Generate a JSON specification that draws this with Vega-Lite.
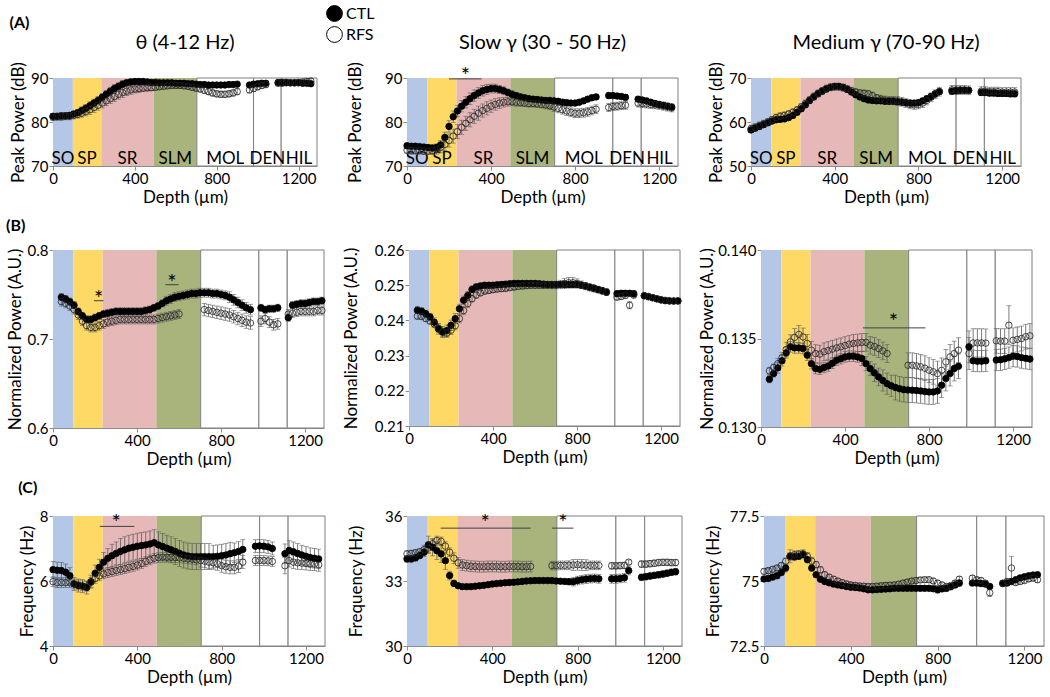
{
"$schema":"https://vega.github.io/schema/vega-lite/v6.json",
"padding":{"left":6,"top":5,"right":4,"bottom":4},
"config":{"font":"Lato","view":{"stroke":null},"scale":{"zero":false},
"axis":{"labelFontSize":15,"titleFontSize":17,"titleFontWeight":"normal","labelColor":"#000","titleColor":"#000","domainColor":"#8c8c8c","tickColor":"#8c8c8c","tickSize":4,"grid":false,"labelPadding":1,"titlePadding":3,"labelFlush":false,"labelOverlap":false},
"axisY":{"labelOverlap":false},"axisX":{"labelOverlap":false},
"text":{"color":"#000"},
"title":{"fontSize":20,"fontWeight":"normal","color":"#000","offset":8}},
"datasets":{
"regions":[{"region":"SO","start":0,"end":97},{"region":"SP","start":97,"end":236},{"region":"SR","start":236,"end":492},{"region":"SLM","start":492,"end":703},{"region":"MOL","start":703,"end":980},{"region":"DEN","start":980,"end":1115},{"region":"HIL","start":1115,"end":1290}],
"sig":[{"panel":"A2","from":200,"to":355,"y":89.8,"star":278,"ystar":91.6},{"panel":"B1","from":195,"to":240,"y":0.743,"star":217,"ystar":0.751},{"panel":"B1","from":535,"to":598,"y":0.761,"star":566,"ystar":0.769},{"panel":"B3","from":485,"to":783,"y":0.1356,"star":630,"ystar":0.1362},{"panel":"C1","from":222,"to":386,"y":7.68,"star":300,"ystar":7.95},{"panel":"C2","from":158,"to":580,"y":35.44,"star":367,"ystar":35.9},{"panel":"C2","from":681,"to":781,"y":35.44,"star":732,"ystar":35.9}],
"A1":[{"d":0,"CTL":81.3,"eC":0.6,"RFS":81.1,"eR":0.8},{"d":20,"CTL":81.3,"eC":0.6,"RFS":81.2,"eR":0.8},{"d":40,"CTL":81.4,"eC":0.6,"RFS":81.2,"eR":0.8},{"d":60,"CTL":81.4,"eC":0.6,"RFS":81.3,"eR":0.8},{"d":80,"CTL":81.5,"eC":0.6,"RFS":81.3,"eR":0.8},{"d":100,"CTL":81.8,"eC":0.6,"RFS":81.5,"eR":0.8},{"d":120,"CTL":82.1,"eC":0.7,"RFS":81.7,"eR":0.8},{"d":140,"CTL":82.6,"eC":0.8,"RFS":82.0,"eR":0.9},{"d":160,"CTL":83.1,"eC":0.9,"RFS":82.4,"eR":1.0},{"d":180,"CTL":83.7,"eC":0.9,"RFS":82.8,"eR":1.1},{"d":200,"CTL":84.3,"eC":0.9,"RFS":83.3,"eR":1.1},{"d":220,"CTL":84.9,"eC":0.9,"RFS":83.8,"eR":1.1},{"d":240,"CTL":85.6,"eC":0.9,"RFS":84.3,"eR":1.1},{"d":260,"CTL":86.3,"eC":0.9,"RFS":84.8,"eR":1.1},{"d":280,"CTL":87.0,"eC":0.9,"RFS":85.3,"eR":1.1},{"d":300,"CTL":87.6,"eC":0.9,"RFS":85.8,"eR":1.1},{"d":320,"CTL":88.1,"eC":0.8,"RFS":86.3,"eR":1.1},{"d":340,"CTL":88.6,"eC":0.8,"RFS":86.7,"eR":1.1},{"d":360,"CTL":88.9,"eC":0.7,"RFS":87.0,"eR":1.0},{"d":380,"CTL":89.1,"eC":0.7,"RFS":87.3,"eR":1.0},{"d":400,"CTL":89.2,"eC":0.6,"RFS":87.5,"eR":0.9},{"d":420,"CTL":89.2,"eC":0.6,"RFS":87.6,"eR":0.9},{"d":440,"CTL":89.2,"eC":0.6,"RFS":87.7,"eR":0.8},{"d":460,"CTL":89.1,"eC":0.6,"RFS":87.8,"eR":0.8},{"d":480,"CTL":89.0,"eC":0.5,"RFS":87.8,"eR":0.7},{"d":500,"CTL":89.0,"eC":0.5,"RFS":87.9,"eR":0.7},{"d":520,"CTL":88.9,"eC":0.5,"RFS":88.0,"eR":0.6},{"d":540,"CTL":88.9,"eC":0.5,"RFS":88.1,"eR":0.6},{"d":560,"CTL":88.9,"eC":0.5,"RFS":88.2,"eR":0.6},{"d":580,"CTL":88.9,"eC":0.5,"RFS":88.3,"eR":0.6},{"d":600,"CTL":88.8,"eC":0.5,"RFS":88.3,"eR":0.6},{"d":620,"CTL":88.8,"eC":0.5,"RFS":88.3,"eR":0.6},{"d":640,"CTL":88.8,"eC":0.5,"RFS":88.2,"eR":0.6},{"d":660,"CTL":88.7,"eC":0.5,"RFS":88.1,"eR":0.6},{"d":680,"CTL":88.7,"eC":0.5,"RFS":87.9,"eR":0.7},{"d":700,"CTL":88.6,"eC":0.5,"RFS":87.7,"eR":0.7},{"d":720,"CTL":88.5,"eC":0.5,"RFS":87.5,"eR":0.7},{"d":740,"CTL":88.5,"eC":0.5,"RFS":87.2,"eR":0.7},{"d":760,"CTL":88.4,"eC":0.5,"RFS":86.9,"eR":0.7},{"d":780,"CTL":88.4,"eC":0.5,"RFS":86.6,"eR":0.7},{"d":800,"CTL":88.4,"eC":0.5,"RFS":86.4,"eR":0.7},{"d":820,"CTL":88.4,"eC":0.5,"RFS":86.3,"eR":0.7},{"d":840,"CTL":88.4,"eC":0.5,"RFS":86.3,"eR":0.7},{"d":860,"CTL":88.5,"eC":0.5,"RFS":86.4,"eR":0.7},{"d":880,"CTL":88.5,"eC":0.5,"RFS":86.6,"eR":0.7},{"d":900,"CTL":88.6,"eC":0.5,"RFS":86.9,"eR":0.7},{"d":960,"CTL":88.4,"eC":0.5,"RFS":87.3,"eR":0.7},{"d":980,"CTL":88.6,"eC":0.5,"RFS":87.6,"eR":0.7},{"d":1000,"CTL":88.7,"eC":0.5,"RFS":88.0,"eR":0.7},{"d":1020,"CTL":88.8,"eC":0.5,"RFS":88.3,"eR":0.7},{"d":1040,"CTL":88.8,"eC":0.5,"RFS":88.5,"eR":0.7},{"d":1100,"CTL":89.0,"eC":0.5,"RFS":88.8,"eR":0.6},{"d":1120,"CTL":89.0,"eC":0.5,"RFS":88.8,"eR":0.6},{"d":1140,"CTL":89.0,"eC":0.5,"RFS":88.9,"eR":0.6},{"d":1160,"CTL":88.9,"eC":0.5,"RFS":88.9,"eR":0.6},{"d":1180,"CTL":88.9,"eC":0.5,"RFS":88.9,"eR":0.6},{"d":1200,"CTL":88.9,"eC":0.5,"RFS":89.0,"eR":0.6},{"d":1220,"CTL":88.8,"eC":0.5,"RFS":89.1,"eR":0.6},{"d":1240,"CTL":88.8,"eC":0.5,"RFS":89.2,"eR":0.6},{"d":1260,"CTL":88.7,"eC":0.5,"RFS":89.3,"eR":0.6}],
"A2":[{"d":0,"CTL":74.6,"eC":0.6,"RFS":73.6,"eR":0.8},{"d":20,"CTL":74.5,"eC":0.6,"RFS":73.5,"eR":0.8},{"d":40,"CTL":74.5,"eC":0.6,"RFS":73.5,"eR":0.8},{"d":60,"CTL":74.4,"eC":0.6,"RFS":73.5,"eR":0.8},{"d":80,"CTL":74.3,"eC":0.6,"RFS":73.4,"eR":0.8},{"d":100,"CTL":74.2,"eC":0.6,"RFS":73.4,"eR":0.8},{"d":120,"CTL":74.1,"eC":0.7,"RFS":73.5,"eR":0.9},{"d":140,"CTL":74.2,"eC":0.8,"RFS":73.7,"eR":1.0},{"d":160,"CTL":74.8,"eC":1.0,"RFS":74.2,"eR":1.2},{"d":180,"CTL":76.5,"eC":1.2,"RFS":74.9,"eR":1.4},{"d":200,"CTL":79.0,"eC":1.3,"RFS":75.8,"eR":1.5},{"d":220,"CTL":81.2,"eC":1.3,"RFS":76.8,"eR":1.6},{"d":240,"CTL":82.5,"eC":1.3,"RFS":77.8,"eR":1.6},{"d":260,"CTL":83.6,"eC":1.3,"RFS":78.8,"eR":1.6},{"d":280,"CTL":84.5,"eC":1.3,"RFS":79.7,"eR":1.6},{"d":300,"CTL":85.3,"eC":1.3,"RFS":80.5,"eR":1.6},{"d":320,"CTL":86.0,"eC":1.3,"RFS":81.3,"eR":1.6},{"d":340,"CTL":86.6,"eC":1.2,"RFS":82.0,"eR":1.6},{"d":360,"CTL":87.1,"eC":1.2,"RFS":82.6,"eR":1.5},{"d":380,"CTL":87.4,"eC":1.1,"RFS":83.1,"eR":1.5},{"d":400,"CTL":87.6,"eC":1.0,"RFS":83.6,"eR":1.4},{"d":420,"CTL":87.6,"eC":1.0,"RFS":84.0,"eR":1.3},{"d":440,"CTL":87.4,"eC":0.9,"RFS":84.3,"eR":1.2},{"d":460,"CTL":87.1,"eC":0.9,"RFS":84.5,"eR":1.1},{"d":480,"CTL":86.7,"eC":0.8,"RFS":84.6,"eR":1.0},{"d":500,"CTL":86.3,"eC":0.8,"RFS":84.6,"eR":0.9},{"d":520,"CTL":86.0,"eC":0.7,"RFS":84.5,"eR":0.9},{"d":540,"CTL":85.7,"eC":0.7,"RFS":84.4,"eR":0.8},{"d":560,"CTL":85.5,"eC":0.6,"RFS":84.3,"eR":0.8},{"d":580,"CTL":85.3,"eC":0.6,"RFS":84.2,"eR":0.8},{"d":600,"CTL":85.2,"eC":0.6,"RFS":84.2,"eR":0.8},{"d":620,"CTL":85.1,"eC":0.6,"RFS":84.1,"eR":0.8},{"d":640,"CTL":85.0,"eC":0.6,"RFS":84.0,"eR":0.8},{"d":660,"CTL":84.9,"eC":0.6,"RFS":83.9,"eR":0.9},{"d":680,"CTL":84.9,"eC":0.6,"RFS":83.7,"eR":0.9},{"d":700,"CTL":84.8,"eC":0.6,"RFS":83.4,"eR":1.0},{"d":720,"CTL":84.7,"eC":0.6,"RFS":83.1,"eR":1.0},{"d":740,"CTL":84.5,"eC":0.6,"RFS":82.8,"eR":1.0},{"d":760,"CTL":84.4,"eC":0.6,"RFS":82.5,"eR":1.0},{"d":780,"CTL":84.3,"eC":0.6,"RFS":82.2,"eR":1.0},{"d":800,"CTL":84.3,"eC":0.6,"RFS":82.0,"eR":1.0},{"d":820,"CTL":84.5,"eC":0.6,"RFS":82.0,"eR":1.0},{"d":840,"CTL":84.8,"eC":0.6,"RFS":82.1,"eR":1.0},{"d":860,"CTL":85.2,"eC":0.6,"RFS":82.3,"eR":1.0},{"d":880,"CTL":85.5,"eC":0.6,"RFS":82.6,"eR":1.0},{"d":900,"CTL":85.7,"eC":0.6,"RFS":82.9,"eR":1.0},{"d":960,"CTL":86.0,"eC":0.6,"RFS":83.3,"eR":0.9},{"d":980,"CTL":86.0,"eC":0.6,"RFS":83.5,"eR":0.9},{"d":1000,"CTL":85.9,"eC":0.6,"RFS":83.6,"eR":0.9},{"d":1020,"CTL":85.8,"eC":0.6,"RFS":83.7,"eR":0.9},{"d":1040,"CTL":85.6,"eC":0.6,"RFS":83.8,"eR":0.9},{"d":1100,"CTL":85.2,"eC":0.6,"RFS":84.3,"eR":0.9},{"d":1120,"CTL":85.0,"eC":0.6,"RFS":84.2,"eR":0.9},{"d":1140,"CTL":84.8,"eC":0.6,"RFS":84.1,"eR":0.9},{"d":1160,"CTL":84.5,"eC":0.6,"RFS":84.0,"eR":0.9},{"d":1180,"CTL":84.2,"eC":0.6,"RFS":83.9,"eR":0.9},{"d":1200,"CTL":84.0,"eC":0.6,"RFS":83.8,"eR":0.9},{"d":1220,"CTL":83.8,"eC":0.6,"RFS":83.6,"eR":0.9},{"d":1240,"CTL":83.6,"eC":0.6,"RFS":83.4,"eR":0.9},{"d":1260,"CTL":83.4,"eC":0.6,"RFS":83.2,"eR":0.9}],
"A3":[{"d":0,"CTL":58.2,"eC":0.6,"RFS":58.5,"eR":0.8},{"d":20,"CTL":58.6,"eC":0.6,"RFS":58.8,"eR":0.8},{"d":40,"CTL":59.0,"eC":0.6,"RFS":59.2,"eR":0.8},{"d":60,"CTL":59.4,"eC":0.6,"RFS":59.6,"eR":0.8},{"d":80,"CTL":59.8,"eC":0.6,"RFS":60.0,"eR":0.8},{"d":100,"CTL":60.2,"eC":0.6,"RFS":60.5,"eR":0.8},{"d":120,"CTL":60.5,"eC":0.6,"RFS":61.0,"eR":0.8},{"d":140,"CTL":60.6,"eC":0.6,"RFS":61.3,"eR":0.8},{"d":160,"CTL":60.7,"eC":0.6,"RFS":61.5,"eR":0.8},{"d":180,"CTL":61.0,"eC":0.6,"RFS":61.8,"eR":0.8},{"d":200,"CTL":61.5,"eC":0.6,"RFS":62.2,"eR":0.8},{"d":220,"CTL":62.2,"eC":0.6,"RFS":62.7,"eR":0.8},{"d":240,"CTL":63.0,"eC":0.6,"RFS":63.4,"eR":0.8},{"d":260,"CTL":63.9,"eC":0.6,"RFS":64.2,"eR":0.8},{"d":280,"CTL":64.9,"eC":0.6,"RFS":65.0,"eR":0.8},{"d":300,"CTL":65.7,"eC":0.6,"RFS":65.8,"eR":0.8},{"d":320,"CTL":66.4,"eC":0.6,"RFS":66.5,"eR":0.8},{"d":340,"CTL":67.0,"eC":0.6,"RFS":67.1,"eR":0.8},{"d":360,"CTL":67.5,"eC":0.6,"RFS":67.6,"eR":0.8},{"d":380,"CTL":67.9,"eC":0.6,"RFS":67.9,"eR":0.8},{"d":400,"CTL":68.1,"eC":0.6,"RFS":68.0,"eR":0.8},{"d":420,"CTL":68.1,"eC":0.6,"RFS":68.0,"eR":0.8},{"d":440,"CTL":67.9,"eC":0.6,"RFS":67.8,"eR":0.8},{"d":460,"CTL":67.4,"eC":0.6,"RFS":67.5,"eR":0.8},{"d":480,"CTL":66.8,"eC":0.6,"RFS":67.1,"eR":0.8},{"d":500,"CTL":66.2,"eC":0.6,"RFS":66.8,"eR":0.8},{"d":520,"CTL":65.7,"eC":0.6,"RFS":66.6,"eR":0.8},{"d":540,"CTL":65.3,"eC":0.6,"RFS":66.5,"eR":0.8},{"d":560,"CTL":65.0,"eC":0.6,"RFS":66.4,"eR":0.8},{"d":580,"CTL":64.9,"eC":0.6,"RFS":66.0,"eR":0.8},{"d":600,"CTL":64.8,"eC":0.6,"RFS":65.5,"eR":0.8},{"d":620,"CTL":64.8,"eC":0.6,"RFS":65.2,"eR":0.9},{"d":640,"CTL":64.7,"eC":0.6,"RFS":65.0,"eR":0.9},{"d":660,"CTL":64.7,"eC":0.6,"RFS":64.9,"eR":0.9},{"d":680,"CTL":64.7,"eC":0.6,"RFS":64.9,"eR":0.9},{"d":700,"CTL":64.6,"eC":0.6,"RFS":64.8,"eR":1.0},{"d":720,"CTL":64.5,"eC":0.6,"RFS":64.6,"eR":1.0},{"d":740,"CTL":64.4,"eC":0.6,"RFS":64.3,"eR":1.0},{"d":760,"CTL":64.3,"eC":0.6,"RFS":64.0,"eR":1.0},{"d":780,"CTL":64.3,"eC":0.6,"RFS":63.9,"eR":1.0},{"d":800,"CTL":64.4,"eC":0.6,"RFS":64.0,"eR":1.0},{"d":820,"CTL":64.8,"eC":0.6,"RFS":64.3,"eR":1.0},{"d":840,"CTL":65.3,"eC":0.6,"RFS":64.9,"eR":1.0},{"d":860,"CTL":65.8,"eC":0.6,"RFS":65.6,"eR":1.0},{"d":880,"CTL":66.4,"eC":0.6,"RFS":66.3,"eR":1.0},{"d":900,"CTL":66.9,"eC":0.6,"RFS":66.9,"eR":1.0},{"d":960,"CTL":67.0,"eC":0.7,"RFS":67.3,"eR":1.0},{"d":980,"CTL":67.1,"eC":0.7,"RFS":67.3,"eR":1.0},{"d":1000,"CTL":67.2,"eC":0.7,"RFS":67.3,"eR":1.0},{"d":1020,"CTL":67.2,"eC":0.7,"RFS":67.3,"eR":1.0},{"d":1040,"CTL":67.2,"eC":0.7,"RFS":67.2,"eR":1.0},{"d":1100,"CTL":66.7,"eC":0.7,"RFS":67.0,"eR":1.0},{"d":1120,"CTL":66.7,"eC":0.7,"RFS":67.0,"eR":1.0},{"d":1140,"CTL":66.6,"eC":0.7,"RFS":66.9,"eR":1.0},{"d":1160,"CTL":66.6,"eC":0.7,"RFS":66.9,"eR":1.0},{"d":1180,"CTL":66.5,"eC":0.7,"RFS":66.9,"eR":1.0},{"d":1200,"CTL":66.5,"eC":0.7,"RFS":66.8,"eR":1.0},{"d":1220,"CTL":66.5,"eC":0.7,"RFS":66.8,"eR":1.0},{"d":1240,"CTL":66.4,"eC":0.7,"RFS":66.8,"eR":1.0},{"d":1260,"CTL":66.4,"eC":0.7,"RFS":66.8,"eR":1.0}],
"B1":[{"d":40,"CTL":0.747,"eC":0.004,"RFS":0.742,"eR":0.005},{"d":60,"CTL":0.745,"eC":0.004,"RFS":0.740,"eR":0.005},{"d":80,"CTL":0.742,"eC":0.004,"RFS":0.737,"eR":0.005},{"d":100,"CTL":0.738,"eC":0.004,"RFS":0.733,"eR":0.005},{"d":120,"CTL":0.731,"eC":0.004,"RFS":0.727,"eR":0.005},{"d":140,"CTL":0.726,"eC":0.004,"RFS":0.720,"eR":0.005},{"d":160,"CTL":0.722,"eC":0.004,"RFS":0.715,"eR":0.005},{"d":180,"CTL":0.722,"eC":0.004,"RFS":0.713,"eR":0.005},{"d":200,"CTL":0.724,"eC":0.004,"RFS":0.713,"eR":0.005},{"d":220,"CTL":0.726,"eC":0.004,"RFS":0.715,"eR":0.005},{"d":240,"CTL":0.728,"eC":0.004,"RFS":0.717,"eR":0.005},{"d":260,"CTL":0.729,"eC":0.004,"RFS":0.719,"eR":0.005},{"d":280,"CTL":0.730,"eC":0.004,"RFS":0.720,"eR":0.005},{"d":300,"CTL":0.731,"eC":0.004,"RFS":0.721,"eR":0.005},{"d":320,"CTL":0.731,"eC":0.004,"RFS":0.722,"eR":0.005},{"d":340,"CTL":0.731,"eC":0.004,"RFS":0.722,"eR":0.005},{"d":360,"CTL":0.731,"eC":0.004,"RFS":0.722,"eR":0.005},{"d":380,"CTL":0.731,"eC":0.004,"RFS":0.722,"eR":0.005},{"d":400,"CTL":0.731,"eC":0.004,"RFS":0.722,"eR":0.005},{"d":420,"CTL":0.731,"eC":0.004,"RFS":0.722,"eR":0.005},{"d":440,"CTL":0.732,"eC":0.004,"RFS":0.722,"eR":0.005},{"d":460,"CTL":0.733,"eC":0.004,"RFS":0.722,"eR":0.005},{"d":480,"CTL":0.735,"eC":0.004,"RFS":0.722,"eR":0.005},{"d":500,"CTL":0.737,"eC":0.004,"RFS":0.723,"eR":0.005},{"d":520,"CTL":0.740,"eC":0.004,"RFS":0.724,"eR":0.005},{"d":540,"CTL":0.743,"eC":0.005,"RFS":0.725,"eR":0.005},{"d":560,"CTL":0.745,"eC":0.005,"RFS":0.726,"eR":0.005},{"d":580,"CTL":0.747,"eC":0.005,"RFS":0.727,"eR":0.005},{"d":600,"CTL":0.748,"eC":0.005,"RFS":0.728,"eR":0.005},{"d":620,"CTL":0.749,"eC":0.005},{"d":640,"CTL":0.750,"eC":0.005},{"d":660,"CTL":0.751,"eC":0.005},{"d":680,"CTL":0.751,"eC":0.005},{"d":700,"CTL":0.752,"eC":0.005},{"d":720,"CTL":0.752,"eC":0.005,"RFS":0.733,"eR":0.007},{"d":740,"CTL":0.752,"eC":0.005,"RFS":0.732,"eR":0.007},{"d":760,"CTL":0.751,"eC":0.005,"RFS":0.731,"eR":0.007},{"d":780,"CTL":0.751,"eC":0.005,"RFS":0.730,"eR":0.007},{"d":800,"CTL":0.750,"eC":0.005,"RFS":0.729,"eR":0.007},{"d":820,"CTL":0.749,"eC":0.005,"RFS":0.728,"eR":0.007},{"d":840,"CTL":0.747,"eC":0.006,"RFS":0.727,"eR":0.007},{"d":860,"CTL":0.744,"eC":0.006,"RFS":0.725,"eR":0.007},{"d":880,"CTL":0.741,"eC":0.006,"RFS":0.723,"eR":0.007},{"d":900,"CTL":0.738,"eC":0.006,"RFS":0.721,"eR":0.007},{"d":920,"CTL":0.735,"eC":0.006,"RFS":0.719,"eR":0.007},{"d":940,"CTL":0.733,"eC":0.006,"RFS":0.718,"eR":0.007},{"d":990,"CTL":0.735,"eC":0.004,"RFS":0.720,"eR":0.006},{"d":1010,"CTL":0.733,"eC":0.004,"RFS":0.723,"eR":0.006},{"d":1030,"CTL":0.734,"eC":0.004,"RFS":0.719,"eR":0.006},{"d":1050,"CTL":0.734,"eC":0.004,"RFS":0.716,"eR":0.006},{"d":1070,"CTL":0.735,"eC":0.004,"RFS":0.717,"eR":0.006},{"d":1120,"CTL":0.724,"eC":0.004,"RFS":0.728,"eR":0.005},{"d":1140,"CTL":0.738,"eC":0.004,"RFS":0.729,"eR":0.005},{"d":1160,"CTL":0.739,"eC":0.004,"RFS":0.730,"eR":0.005},{"d":1180,"CTL":0.740,"eC":0.004,"RFS":0.731,"eR":0.005},{"d":1200,"CTL":0.740,"eC":0.004,"RFS":0.731,"eR":0.005},{"d":1220,"CTL":0.741,"eC":0.004,"RFS":0.731,"eR":0.005},{"d":1240,"CTL":0.742,"eC":0.004,"RFS":0.731,"eR":0.005},{"d":1260,"CTL":0.742,"eC":0.004,"RFS":0.732,"eR":0.005},{"d":1280,"CTL":0.743,"eC":0.004,"RFS":0.732,"eR":0.005}],
"B2":[{"d":40,"CTL":0.2429,"eC":0.0010,"RFS":0.2412,"eR":0.0008},{"d":60,"CTL":0.2426,"eC":0.0010,"RFS":0.2411,"eR":0.0008},{"d":80,"CTL":0.2419,"eC":0.0010,"RFS":0.2405,"eR":0.0008},{"d":100,"CTL":0.2410,"eC":0.0010,"RFS":0.2398,"eR":0.0008},{"d":120,"CTL":0.2395,"eC":0.0012,"RFS":0.2390,"eR":0.0010},{"d":140,"CTL":0.2376,"eC":0.0015,"RFS":0.2378,"eR":0.0012},{"d":160,"CTL":0.2367,"eC":0.0016,"RFS":0.2366,"eR":0.0012},{"d":180,"CTL":0.2371,"eC":0.0016,"RFS":0.2364,"eR":0.0012},{"d":200,"CTL":0.2386,"eC":0.0015,"RFS":0.2372,"eR":0.0012},{"d":220,"CTL":0.2405,"eC":0.0014,"RFS":0.2385,"eR":0.0012},{"d":240,"CTL":0.2433,"eC":0.0013,"RFS":0.2405,"eR":0.0012},{"d":260,"CTL":0.2457,"eC":0.0012,"RFS":0.2428,"eR":0.0012},{"d":280,"CTL":0.2471,"eC":0.0011,"RFS":0.2448,"eR":0.0011},{"d":300,"CTL":0.2488,"eC":0.0010,"RFS":0.2462,"eR":0.0010},{"d":320,"CTL":0.2495,"eC":0.0009,"RFS":0.2472,"eR":0.0009},{"d":340,"CTL":0.2498,"eC":0.0008,"RFS":0.2478,"eR":0.0008},{"d":360,"CTL":0.2500,"eC":0.0008,"RFS":0.2483,"eR":0.0008},{"d":380,"CTL":0.2500,"eC":0.0008,"RFS":0.2485,"eR":0.0008},{"d":400,"CTL":0.2500,"eC":0.0008,"RFS":0.2487,"eR":0.0008},{"d":420,"CTL":0.2501,"eC":0.0008,"RFS":0.2489,"eR":0.0008},{"d":440,"CTL":0.2502,"eC":0.0008,"RFS":0.2490,"eR":0.0008},{"d":460,"CTL":0.2503,"eC":0.0008,"RFS":0.2491,"eR":0.0008},{"d":480,"CTL":0.2504,"eC":0.0008,"RFS":0.2493,"eR":0.0008},{"d":500,"CTL":0.2505,"eC":0.0008,"RFS":0.2495,"eR":0.0009},{"d":520,"CTL":0.2505,"eC":0.0008,"RFS":0.2497,"eR":0.0009},{"d":540,"CTL":0.2505,"eC":0.0008,"RFS":0.2498,"eR":0.0009},{"d":560,"CTL":0.2505,"eC":0.0008,"RFS":0.2499,"eR":0.0009},{"d":580,"CTL":0.2505,"eC":0.0008,"RFS":0.2500,"eR":0.0009},{"d":600,"CTL":0.2505,"eC":0.0008,"RFS":0.2500,"eR":0.0009},{"d":620,"CTL":0.2504,"eC":0.0008,"RFS":0.2500,"eR":0.0009},{"d":640,"CTL":0.2503,"eC":0.0008,"RFS":0.2500,"eR":0.0009},{"d":660,"CTL":0.2502,"eC":0.0008,"RFS":0.2500,"eR":0.0009},{"d":680,"CTL":0.2502,"eC":0.0008,"RFS":0.2500,"eR":0.0009},{"d":700,"CTL":0.2502,"eC":0.0008,"RFS":0.2500,"eR":0.0010},{"d":720,"CTL":0.2502,"eC":0.0008,"RFS":0.2502,"eR":0.0012},{"d":740,"CTL":0.2502,"eC":0.0008,"RFS":0.2505,"eR":0.0014},{"d":760,"CTL":0.2502,"eC":0.0008,"RFS":0.2507,"eR":0.0015},{"d":780,"CTL":0.2502,"eC":0.0008,"RFS":0.2507,"eR":0.0015},{"d":800,"CTL":0.2502,"eC":0.0008,"RFS":0.2505,"eR":0.0013},{"d":820,"CTL":0.2500,"eC":0.0008,"RFS":0.2501,"eR":0.0011},{"d":840,"CTL":0.2498,"eC":0.0008,"RFS":0.2497,"eR":0.0010},{"d":860,"CTL":0.2495,"eC":0.0008,"RFS":0.2493,"eR":0.0009},{"d":880,"CTL":0.2492,"eC":0.0008,"RFS":0.2490,"eR":0.0009},{"d":900,"CTL":0.2488,"eC":0.0008,"RFS":0.2487,"eR":0.0009},{"d":920,"CTL":0.2484,"eC":0.0008,"RFS":0.2484,"eR":0.0009},{"d":940,"CTL":0.2480,"eC":0.0008,"RFS":0.2481,"eR":0.0009},{"d":990,"CTL":0.2476,"eC":0.0008,"RFS":0.2466,"eR":0.0008},{"d":1010,"CTL":0.2477,"eC":0.0008,"RFS":0.2468,"eR":0.0008},{"d":1030,"CTL":0.2477,"eC":0.0008,"RFS":0.2471,"eR":0.0008},{"d":1050,"CTL":0.2477,"eC":0.0008,"RFS":0.2443,"eR":0.0010},{"d":1070,"CTL":0.2476,"eC":0.0008,"RFS":0.2472,"eR":0.0008},{"d":1120,"CTL":0.2470,"eC":0.0006,"RFS":0.2470,"eR":0.0006},{"d":1140,"CTL":0.2467,"eC":0.0006,"RFS":0.2468,"eR":0.0006},{"d":1160,"CTL":0.2464,"eC":0.0006,"RFS":0.2465,"eR":0.0006},{"d":1180,"CTL":0.2461,"eC":0.0006,"RFS":0.2462,"eR":0.0006},{"d":1200,"CTL":0.2458,"eC":0.0006,"RFS":0.2459,"eR":0.0006},{"d":1220,"CTL":0.2456,"eC":0.0006,"RFS":0.2457,"eR":0.0006},{"d":1240,"CTL":0.2455,"eC":0.0006,"RFS":0.2456,"eR":0.0006},{"d":1260,"CTL":0.2455,"eC":0.0006,"RFS":0.2455,"eR":0.0006},{"d":1280,"CTL":0.2455,"eC":0.0006,"RFS":0.2456,"eR":0.0006}],
"B3":[{"d":40,"CTL":0.13270,"eC":0.0002,"RFS":0.13317,"eR":0.0002},{"d":60,"CTL":0.13302,"eC":0.0002,"RFS":0.13336,"eR":0.0002},{"d":80,"CTL":0.13334,"eC":0.0003,"RFS":0.13358,"eR":0.0003},{"d":100,"CTL":0.13374,"eC":0.0003,"RFS":0.13392,"eR":0.0003},{"d":120,"CTL":0.13419,"eC":0.0003,"RFS":0.13438,"eR":0.0004},{"d":140,"CTL":0.13453,"eC":0.0003,"RFS":0.13481,"eR":0.0004},{"d":160,"CTL":0.13447,"eC":0.0003,"RFS":0.13506,"eR":0.0005},{"d":180,"CTL":0.13447,"eC":0.0003,"RFS":0.13523,"eR":0.0005},{"d":200,"CTL":0.13443,"eC":0.0003,"RFS":0.13509,"eR":0.0005},{"d":220,"CTL":0.13406,"eC":0.0003,"RFS":0.13472,"eR":0.0005},{"d":240,"CTL":0.13358,"eC":0.0003,"RFS":0.13434,"eR":0.0005},{"d":260,"CTL":0.13330,"eC":0.0003,"RFS":0.13415,"eR":0.0005},{"d":280,"CTL":0.13326,"eC":0.0003,"RFS":0.13412,"eR":0.0005},{"d":300,"CTL":0.13336,"eC":0.0003,"RFS":0.13425,"eR":0.0005},{"d":320,"CTL":0.13345,"eC":0.0003,"RFS":0.13432,"eR":0.0005},{"d":340,"CTL":0.13360,"eC":0.0003,"RFS":0.13440,"eR":0.0005},{"d":360,"CTL":0.13377,"eC":0.0003,"RFS":0.13447,"eR":0.0005},{"d":380,"CTL":0.13386,"eC":0.0003,"RFS":0.13453,"eR":0.0005},{"d":400,"CTL":0.13396,"eC":0.0003,"RFS":0.13460,"eR":0.0005},{"d":420,"CTL":0.13400,"eC":0.0003,"RFS":0.13468,"eR":0.0005},{"d":440,"CTL":0.13400,"eC":0.0003,"RFS":0.13472,"eR":0.0005},{"d":460,"CTL":0.13396,"eC":0.0003,"RFS":0.13475,"eR":0.0005},{"d":480,"CTL":0.13387,"eC":0.0004,"RFS":0.13478,"eR":0.0005},{"d":500,"CTL":0.13358,"eC":0.0004,"RFS":0.13478,"eR":0.0005},{"d":520,"CTL":0.13330,"eC":0.0004,"RFS":0.13462,"eR":0.0005},{"d":540,"CTL":0.13306,"eC":0.0005,"RFS":0.13455,"eR":0.0005},{"d":560,"CTL":0.13283,"eC":0.0005,"RFS":0.13443,"eR":0.0005},{"d":580,"CTL":0.13263,"eC":0.0006,"RFS":0.13430,"eR":0.0005},{"d":600,"CTL":0.13245,"eC":0.0006,"RFS":0.13415,"eR":0.0005},{"d":620,"CTL":0.13233,"eC":0.0006},{"d":640,"CTL":0.13223,"eC":0.0007},{"d":660,"CTL":0.13216,"eC":0.0007},{"d":680,"CTL":0.13211,"eC":0.0007},{"d":700,"CTL":0.13209,"eC":0.0007,"RFS":0.13349,"eR":0.0007},{"d":720,"CTL":0.13208,"eC":0.0007,"RFS":0.13349,"eR":0.0007},{"d":740,"CTL":0.13206,"eC":0.0007,"RFS":0.13345,"eR":0.0007},{"d":760,"CTL":0.13204,"eC":0.0007,"RFS":0.13340,"eR":0.0007},{"d":780,"CTL":0.13200,"eC":0.0007,"RFS":0.13332,"eR":0.0007},{"d":800,"CTL":0.13198,"eC":0.0007,"RFS":0.13321,"eR":0.0007},{"d":820,"CTL":0.13198,"eC":0.0007,"RFS":0.13312,"eR":0.0007},{"d":840,"CTL":0.13204,"eC":0.0007,"RFS":0.13302,"eR":0.0007},{"d":860,"CTL":0.13236,"eC":0.0007,"RFS":0.13320,"eR":0.0007},{"d":880,"CTL":0.13274,"eC":0.0007,"RFS":0.13368,"eR":0.0007},{"d":900,"CTL":0.13302,"eC":0.0007,"RFS":0.13396,"eR":0.0007},{"d":920,"CTL":0.13330,"eC":0.0007,"RFS":0.13415,"eR":0.0007},{"d":940,"CTL":0.13343,"eC":0.0007,"RFS":0.13434,"eR":0.0007},{"d":990,"CTL":0.13453,"eC":0.0009,"RFS":0.13415,"eR":0.0009},{"d":1010,"CTL":0.13374,"eC":0.0006,"RFS":0.13475,"eR":0.0008},{"d":1030,"CTL":0.13372,"eC":0.0006,"RFS":0.13475,"eR":0.0008},{"d":1050,"CTL":0.13372,"eC":0.0006,"RFS":0.13475,"eR":0.0008},{"d":1070,"CTL":0.13374,"eC":0.0006,"RFS":0.13474,"eR":0.0008},{"d":1120,"CTL":0.13378,"eC":0.0006,"RFS":0.13487,"eR":0.0007},{"d":1140,"CTL":0.13380,"eC":0.0006,"RFS":0.13485,"eR":0.0007},{"d":1160,"CTL":0.13385,"eC":0.0006,"RFS":0.13485,"eR":0.0007},{"d":1180,"CTL":0.13392,"eC":0.0006,"RFS":0.13575,"eR":0.0011},{"d":1200,"CTL":0.13400,"eC":0.0006,"RFS":0.13490,"eR":0.0007},{"d":1220,"CTL":0.13398,"eC":0.0006,"RFS":0.13495,"eR":0.0007},{"d":1240,"CTL":0.13392,"eC":0.0006,"RFS":0.13500,"eR":0.0007},{"d":1260,"CTL":0.13388,"eC":0.0006,"RFS":0.13510,"eR":0.0007},{"d":1280,"CTL":0.13384,"eC":0.0006,"RFS":0.13515,"eR":0.0007}],
"C1":[{"d":0,"CTL":6.35,"eC":0.25,"RFS":5.98,"eR":0.15},{"d":20,"CTL":6.33,"eC":0.25,"RFS":5.95,"eR":0.15},{"d":40,"CTL":6.32,"eC":0.25,"RFS":5.95,"eR":0.15},{"d":60,"CTL":6.27,"eC":0.25,"RFS":5.95,"eR":0.15},{"d":80,"CTL":6.16,"eC":0.25,"RFS":5.95,"eR":0.15},{"d":100,"CTL":5.91,"eC":0.2,"RFS":5.91,"eR":0.15},{"d":120,"CTL":5.86,"eC":0.2,"RFS":5.88,"eR":0.15},{"d":140,"CTL":5.84,"eC":0.2,"RFS":5.85,"eR":0.15},{"d":160,"CTL":5.80,"eC":0.2,"RFS":5.84,"eR":0.15},{"d":180,"CTL":5.98,"eC":0.2,"RFS":5.96,"eR":0.15},{"d":200,"CTL":6.24,"eC":0.25,"RFS":6.08,"eR":0.15},{"d":220,"CTL":6.42,"eC":0.25,"RFS":6.16,"eR":0.15},{"d":240,"CTL":6.58,"eC":0.3,"RFS":6.22,"eR":0.15},{"d":260,"CTL":6.70,"eC":0.3,"RFS":6.26,"eR":0.15},{"d":280,"CTL":6.78,"eC":0.35,"RFS":6.29,"eR":0.15},{"d":300,"CTL":6.85,"eC":0.35,"RFS":6.32,"eR":0.15},{"d":320,"CTL":6.91,"eC":0.4,"RFS":6.35,"eR":0.15},{"d":340,"CTL":6.96,"eC":0.4,"RFS":6.38,"eR":0.15},{"d":360,"CTL":7.01,"eC":0.4,"RFS":6.42,"eR":0.15},{"d":380,"CTL":7.04,"eC":0.4,"RFS":6.45,"eR":0.15},{"d":400,"CTL":7.07,"eC":0.4,"RFS":6.49,"eR":0.15},{"d":420,"CTL":7.09,"eC":0.4,"RFS":6.54,"eR":0.15},{"d":440,"CTL":7.11,"eC":0.4,"RFS":6.60,"eR":0.15},{"d":460,"CTL":7.14,"eC":0.4,"RFS":6.65,"eR":0.15},{"d":480,"CTL":7.18,"eC":0.4,"RFS":6.70,"eR":0.15},{"d":500,"CTL":7.11,"eC":0.4,"RFS":6.72,"eR":0.15},{"d":520,"CTL":7.06,"eC":0.4,"RFS":6.73,"eR":0.15},{"d":540,"CTL":7.01,"eC":0.4,"RFS":6.73,"eR":0.15},{"d":560,"CTL":6.96,"eC":0.4,"RFS":6.73,"eR":0.15},{"d":580,"CTL":6.91,"eC":0.4,"RFS":6.72,"eR":0.15},{"d":600,"CTL":6.85,"eC":0.4,"RFS":6.71,"eR":0.15},{"d":620,"CTL":6.80,"eC":0.4,"RFS":6.70,"eR":0.15},{"d":640,"CTL":6.77,"eC":0.4,"RFS":6.68,"eR":0.15},{"d":660,"CTL":6.75,"eC":0.4,"RFS":6.67,"eR":0.15},{"d":680,"CTL":6.75,"eC":0.4,"RFS":6.65,"eR":0.15},{"d":700,"CTL":6.75,"eC":0.4,"RFS":6.63,"eR":0.2},{"d":720,"CTL":6.75,"eC":0.4,"RFS":6.61,"eR":0.2},{"d":740,"CTL":6.75,"eC":0.4,"RFS":6.58,"eR":0.2},{"d":760,"CTL":6.75,"eC":0.35,"RFS":6.56,"eR":0.2},{"d":780,"CTL":6.76,"eC":0.35,"RFS":6.53,"eR":0.2},{"d":800,"CTL":6.78,"eC":0.35,"RFS":6.47,"eR":0.2},{"d":820,"CTL":6.80,"eC":0.35,"RFS":6.44,"eR":0.2},{"d":840,"CTL":6.84,"eC":0.35,"RFS":6.42,"eR":0.2},{"d":860,"CTL":6.87,"eC":0.3,"RFS":6.42,"eR":0.2},{"d":880,"CTL":6.91,"eC":0.3,"RFS":6.46,"eR":0.2},{"d":900,"CTL":6.97,"eC":0.3,"RFS":6.58,"eR":0.2},{"d":960,"CTL":7.07,"eC":0.2,"RFS":6.63,"eR":0.15},{"d":980,"CTL":7.08,"eC":0.2,"RFS":6.63,"eR":0.15},{"d":1000,"CTL":7.07,"eC":0.2,"RFS":6.63,"eR":0.15},{"d":1020,"CTL":7.05,"eC":0.2,"RFS":6.62,"eR":0.15},{"d":1040,"CTL":7.00,"eC":0.2,"RFS":6.60,"eR":0.15},{"d":1100,"CTL":6.84,"eC":0.3,"RFS":6.47,"eR":0.25},{"d":1120,"CTL":6.94,"eC":0.3,"RFS":6.63,"eR":0.2},{"d":1140,"CTL":6.90,"eC":0.3,"RFS":6.58,"eR":0.2},{"d":1160,"CTL":6.85,"eC":0.3,"RFS":6.56,"eR":0.2},{"d":1180,"CTL":6.80,"eC":0.3,"RFS":6.55,"eR":0.2},{"d":1200,"CTL":6.76,"eC":0.3,"RFS":6.54,"eR":0.2},{"d":1220,"CTL":6.72,"eC":0.3,"RFS":6.53,"eR":0.2},{"d":1240,"CTL":6.70,"eC":0.3,"RFS":6.52,"eR":0.2},{"d":1260,"CTL":6.68,"eC":0.3,"RFS":6.50,"eR":0.2}],
"C2":[{"d":0,"CTL":34.02,"eC":0.15,"RFS":34.25,"eR":0.15},{"d":20,"CTL":34.02,"eC":0.15,"RFS":34.27,"eR":0.15},{"d":40,"CTL":34.07,"eC":0.15,"RFS":34.30,"eR":0.15},{"d":60,"CTL":34.18,"eC":0.15,"RFS":34.35,"eR":0.15},{"d":80,"CTL":34.33,"eC":0.2,"RFS":34.45,"eR":0.2},{"d":100,"CTL":34.67,"eC":0.4,"RFS":34.52,"eR":0.2},{"d":120,"CTL":34.56,"eC":0.4,"RFS":34.72,"eR":0.2},{"d":140,"CTL":34.40,"eC":0.4,"RFS":34.87,"eR":0.2},{"d":160,"CTL":34.25,"eC":0.4,"RFS":34.83,"eR":0.2},{"d":180,"CTL":33.94,"eC":0.4,"RFS":34.61,"eR":0.2},{"d":200,"CTL":33.25,"eC":0.2,"RFS":34.33,"eR":0.2},{"d":220,"CTL":32.89,"eC":0.15,"RFS":34.05,"eR":0.25},{"d":240,"CTL":32.78,"eC":0.1,"RFS":33.84,"eR":0.25},{"d":260,"CTL":32.74,"eC":0.1,"RFS":33.74,"eR":0.25},{"d":280,"CTL":32.74,"eC":0.1,"RFS":33.71,"eR":0.25},{"d":300,"CTL":32.74,"eC":0.1,"RFS":33.68,"eR":0.25},{"d":320,"CTL":32.76,"eC":0.1,"RFS":33.67,"eR":0.25},{"d":340,"CTL":32.78,"eC":0.1,"RFS":33.66,"eR":0.25},{"d":360,"CTL":32.80,"eC":0.1,"RFS":33.66,"eR":0.25},{"d":380,"CTL":32.83,"eC":0.1,"RFS":33.67,"eR":0.25},{"d":400,"CTL":32.86,"eC":0.1,"RFS":33.67,"eR":0.25},{"d":420,"CTL":32.88,"eC":0.1,"RFS":33.67,"eR":0.25},{"d":440,"CTL":32.90,"eC":0.1,"RFS":33.66,"eR":0.25},{"d":460,"CTL":32.92,"eC":0.1,"RFS":33.66,"eR":0.25},{"d":480,"CTL":32.93,"eC":0.1,"RFS":33.67,"eR":0.25},{"d":500,"CTL":32.94,"eC":0.1,"RFS":33.67,"eR":0.25},{"d":520,"CTL":32.96,"eC":0.1,"RFS":33.67,"eR":0.25},{"d":540,"CTL":32.98,"eC":0.1,"RFS":33.66,"eR":0.25},{"d":560,"CTL":33.00,"eC":0.1,"RFS":33.66,"eR":0.25},{"d":580,"CTL":33.01,"eC":0.1,"RFS":33.67,"eR":0.25},{"d":600,"CTL":33.02,"eC":0.1},{"d":620,"CTL":33.02,"eC":0.1},{"d":640,"CTL":33.02,"eC":0.1},{"d":660,"CTL":33.02,"eC":0.1},{"d":680,"CTL":33.02,"eC":0.1,"RFS":33.71,"eR":0.2},{"d":700,"CTL":33.00,"eC":0.1,"RFS":33.71,"eR":0.2},{"d":720,"CTL":32.99,"eC":0.1,"RFS":33.72,"eR":0.2},{"d":740,"CTL":32.98,"eC":0.1,"RFS":33.72,"eR":0.2},{"d":760,"CTL":32.97,"eC":0.15,"RFS":33.73,"eR":0.2},{"d":780,"CTL":32.97,"eC":0.2,"RFS":33.74,"eR":0.25},{"d":800,"CTL":33.02,"eC":0.2,"RFS":33.75,"eR":0.25},{"d":820,"CTL":33.06,"eC":0.2,"RFS":33.74,"eR":0.25},{"d":840,"CTL":33.09,"eC":0.2,"RFS":33.73,"eR":0.25},{"d":860,"CTL":33.11,"eC":0.2,"RFS":33.72,"eR":0.2},{"d":880,"CTL":33.12,"eC":0.2,"RFS":33.72,"eR":0.2},{"d":900,"CTL":33.10,"eC":0.2,"RFS":33.72,"eR":0.2},{"d":960,"CTL":33.10,"eC":0.2,"RFS":33.70,"eR":0.15},{"d":980,"CTL":33.10,"eC":0.2,"RFS":33.70,"eR":0.15},{"d":1000,"CTL":33.12,"eC":0.2,"RFS":33.71,"eR":0.15},{"d":1020,"CTL":33.15,"eC":0.2,"RFS":33.72,"eR":0.15},{"d":1040,"CTL":33.48,"eC":0.2,"RFS":33.87,"eR":0.1},{"d":1100,"CTL":33.17,"eC":0.15,"RFS":33.78,"eR":0.15},{"d":1120,"CTL":33.20,"eC":0.15,"RFS":33.78,"eR":0.15},{"d":1140,"CTL":33.23,"eC":0.15,"RFS":33.80,"eR":0.15},{"d":1160,"CTL":33.26,"eC":0.15,"RFS":33.82,"eR":0.15},{"d":1180,"CTL":33.29,"eC":0.15,"RFS":33.85,"eR":0.15},{"d":1200,"CTL":33.32,"eC":0.15,"RFS":33.86,"eR":0.15},{"d":1220,"CTL":33.36,"eC":0.15,"RFS":33.86,"eR":0.15},{"d":1240,"CTL":33.40,"eC":0.15,"RFS":33.85,"eR":0.15},{"d":1260,"CTL":33.43,"eC":0.15,"RFS":33.85,"eR":0.15}],
"C3":[{"d":0,"CTL":75.08,"eC":0.1,"RFS":75.37,"eR":0.1},{"d":20,"CTL":75.10,"eC":0.1,"RFS":75.40,"eR":0.1},{"d":40,"CTL":75.15,"eC":0.1,"RFS":75.45,"eR":0.1},{"d":60,"CTL":75.20,"eC":0.1,"RFS":75.50,"eR":0.1},{"d":80,"CTL":75.33,"eC":0.12,"RFS":75.59,"eR":0.12},{"d":100,"CTL":75.50,"eC":0.15,"RFS":75.76,"eR":0.12},{"d":120,"CTL":75.95,"eC":0.25,"RFS":75.95,"eR":0.15},{"d":140,"CTL":75.93,"eC":0.15,"RFS":76.01,"eR":0.15},{"d":160,"CTL":75.95,"eC":0.12,"RFS":76.03,"eR":0.15},{"d":180,"CTL":76.01,"eC":0.12,"RFS":76.05,"eR":0.15},{"d":200,"CTL":75.82,"eC":0.12,"RFS":75.95,"eR":0.15},{"d":220,"CTL":75.50,"eC":0.12,"RFS":75.76,"eR":0.15},{"d":240,"CTL":75.24,"eC":0.1,"RFS":75.63,"eR":0.12},{"d":260,"CTL":75.07,"eC":0.1,"RFS":75.43,"eR":0.12},{"d":280,"CTL":74.98,"eC":0.1,"RFS":75.24,"eR":0.12},{"d":300,"CTL":74.93,"eC":0.1,"RFS":75.15,"eR":0.1},{"d":320,"CTL":74.88,"eC":0.1,"RFS":75.07,"eR":0.1},{"d":340,"CTL":74.85,"eC":0.1,"RFS":75.00,"eR":0.1},{"d":360,"CTL":74.82,"eC":0.1,"RFS":74.94,"eR":0.1},{"d":380,"CTL":74.79,"eC":0.1,"RFS":74.89,"eR":0.1},{"d":400,"CTL":74.76,"eC":0.1,"RFS":74.85,"eR":0.1},{"d":420,"CTL":74.75,"eC":0.1,"RFS":74.83,"eR":0.1},{"d":440,"CTL":74.73,"eC":0.1,"RFS":74.81,"eR":0.1},{"d":460,"CTL":74.70,"eC":0.1,"RFS":74.80,"eR":0.1},{"d":480,"CTL":74.66,"eC":0.1,"RFS":74.79,"eR":0.1},{"d":500,"CTL":74.66,"eC":0.1,"RFS":74.79,"eR":0.1},{"d":520,"CTL":74.67,"eC":0.1,"RFS":74.80,"eR":0.1},{"d":540,"CTL":74.68,"eC":0.1,"RFS":74.82,"eR":0.1},{"d":560,"CTL":74.69,"eC":0.1,"RFS":74.83,"eR":0.1},{"d":580,"CTL":74.70,"eC":0.1,"RFS":74.84,"eR":0.1},{"d":600,"CTL":74.72,"eC":0.1,"RFS":74.85,"eR":0.1},{"d":620,"CTL":74.72,"eC":0.1,"RFS":74.88,"eR":0.1},{"d":640,"CTL":74.72,"eC":0.1,"RFS":74.92,"eR":0.1},{"d":660,"CTL":74.72,"eC":0.1,"RFS":74.96,"eR":0.1},{"d":680,"CTL":74.72,"eC":0.1,"RFS":75.00,"eR":0.1},{"d":700,"CTL":74.72,"eC":0.1,"RFS":75.02,"eR":0.1},{"d":720,"CTL":74.72,"eC":0.1,"RFS":75.04,"eR":0.1},{"d":740,"CTL":74.72,"eC":0.1,"RFS":75.05,"eR":0.1},{"d":760,"CTL":74.72,"eC":0.1,"RFS":75.05,"eR":0.1},{"d":780,"CTL":74.70,"eC":0.1,"RFS":75.00,"eR":0.1},{"d":800,"CTL":74.66,"eC":0.12,"RFS":74.92,"eR":0.1},{"d":820,"CTL":74.70,"eC":0.12,"RFS":74.85,"eR":0.1},{"d":840,"CTL":74.72,"eC":0.12,"RFS":74.79,"eR":0.1},{"d":860,"CTL":74.78,"eC":0.12,"RFS":74.82,"eR":0.1},{"d":880,"CTL":74.85,"eC":0.12,"RFS":74.92,"eR":0.1},{"d":900,"CTL":74.92,"eC":0.12,"RFS":75.07,"eR":0.1},{"d":960,"CTL":74.92,"eC":0.1,"RFS":75.11,"eR":0.1},{"d":980,"CTL":74.92,"eC":0.1,"RFS":75.05,"eR":0.1},{"d":1000,"CTL":74.90,"eC":0.1,"RFS":75.02,"eR":0.1},{"d":1020,"CTL":74.88,"eC":0.1,"RFS":74.92,"eR":0.1},{"d":1040,"CTL":74.79,"eC":0.1,"RFS":74.55,"eR":0.15},{"d":1100,"CTL":74.90,"eC":0.1,"RFS":74.92,"eR":0.1},{"d":1120,"CTL":74.92,"eC":0.1,"RFS":74.98,"eR":0.1},{"d":1140,"CTL":74.98,"eC":0.1,"RFS":75.50,"eR":0.45},{"d":1160,"CTL":75.05,"eC":0.1,"RFS":74.94,"eR":0.1},{"d":1180,"CTL":75.12,"eC":0.1,"RFS":74.98,"eR":0.1},{"d":1200,"CTL":75.16,"eC":0.1,"RFS":75.02,"eR":0.1},{"d":1220,"CTL":75.20,"eC":0.1,"RFS":75.08,"eR":0.1},{"d":1240,"CTL":75.23,"eC":0.1,"RFS":75.11,"eR":0.1},{"d":1260,"CTL":75.24,"eC":0.1,"RFS":75.05,"eR":0.1}]
},
"spacing":13,
"vconcat":[
{"title":{"text":"(A)","anchor":"start","fontWeight":"bold","fontSize":16,"offset":2},"spacing":28,
"hconcat":[
{"width":264,"height":88,"title":"θ (4-12 Hz)","layer":[
{"data":{"name":"regions"},"mark":"rect","encoding":{"x":{"field":"start","type":"quantitative","title":"Depth (µm)","scale":{"domain":[0,1290],"nice":false},"axis":{"values":[0,400,800,1200],"format":"d"}},"x2":{"field":"end"},"color":{"field":"region","type":"nominal","scale":{"domain":["SO","SP","SR","SLM","MOL","DEN","HIL"],"range":["#b4c7e7","#ffd966","#e6b9b8","#a9b47c","#ffffff","#ffffff","#ffffff"]},"legend":null},"stroke":{"field":"region","type":"nominal","scale":{"domain":["SO","SP","SR","SLM","MOL","DEN","HIL"],"range":["transparent","transparent","transparent","transparent","#7f7f7f","#7f7f7f","#7f7f7f"]},"legend":null}}},
{"data":{"name":"regions"},"transform":[{"calculate":"(datum.start+datum.end)/2","as":"mid"}],"mark":{"type":"text","fontSize":17,"baseline":"alphabetic","dy":-2,"color":"#000"},"encoding":{"x":{"field":"mid","type":"quantitative","title":"Depth (µm)"},"y":{"datum":70,"type":"quantitative","title":"Peak Power (dB)"},"text":{"field":"region"}}},
{"data":{"name":"A1"},"mark":{"type":"errorbar","color":"#595959","thickness":0.8,"ticks":{"size":5}},"encoding":{"x":{"field":"d","type":"quantitative","title":"Depth (µm)"},"y":{"field":"CTL","type":"quantitative","title":"Peak Power (dB)"},"yError":{"field":"eC"}}},
{"data":{"name":"A1"},"transform":[{"filter":"isValid(datum.RFS)"}],"mark":{"type":"errorbar","color":"#595959","thickness":0.8,"ticks":{"size":5}},"encoding":{"x":{"field":"d","type":"quantitative","title":"Depth (µm)"},"y":{"field":"RFS","type":"quantitative","title":"Peak Power (dB)"},"yError":{"field":"eR"}}},
{"data":{"name":"A1"},"mark":{"type":"point","shape":"circle","size":42,"filled":true,"stroke":"#000","strokeWidth":0.8,"opacity":1},"encoding":{"x":{"field":"d","type":"quantitative","title":"Depth (µm)"},"y":{"field":"CTL","type":"quantitative","title":"Peak Power (dB)","scale":{"domain":[70,90]},"axis":{"values":[70,80,90]}},"fill":{"datum":"CTL","type":"nominal","scale":{"domain":["CTL","RFS"],"range":["#000000","transparent"]},"legend":{"orient":"none","legendX":273,"legendY":-73,"padding":0,"title":null,"symbolType":"circle","symbolSize":250,"symbolStrokeColor":"#000","symbolStrokeWidth":1,"labelFontSize":16,"labelOffset":3,"rowPadding":0}}}},
{"data":{"name":"A1"},"transform":[{"filter":"isValid(datum.RFS)"}],"mark":{"type":"point","shape":"circle","size":42,"filled":true,"stroke":"#222","strokeWidth":0.8,"opacity":1},"encoding":{"x":{"field":"d","type":"quantitative","title":"Depth (µm)"},"y":{"field":"RFS","type":"quantitative","title":"Peak Power (dB)"},"fill":{"datum":"RFS","type":"nominal"}}}
]},
{"width":271,"height":88,"title":"Slow γ (30 - 50 Hz)","layer":[
{"data":{"name":"regions"},"mark":"rect","encoding":{"x":{"field":"start","type":"quantitative","title":"Depth (µm)","scale":{"domain":[0,1290],"nice":false},"axis":{"values":[0,400,800,1200],"format":"d"}},"x2":{"field":"end"},"color":{"field":"region","type":"nominal","scale":{"domain":["SO","SP","SR","SLM","MOL","DEN","HIL"],"range":["#b4c7e7","#ffd966","#e6b9b8","#a9b47c","#ffffff","#ffffff","#ffffff"]},"legend":null},"stroke":{"field":"region","type":"nominal","scale":{"domain":["SO","SP","SR","SLM","MOL","DEN","HIL"],"range":["transparent","transparent","transparent","transparent","#7f7f7f","#7f7f7f","#7f7f7f"]},"legend":null}}},
{"data":{"name":"regions"},"transform":[{"calculate":"(datum.start+datum.end)/2","as":"mid"}],"mark":{"type":"text","fontSize":17,"baseline":"alphabetic","dy":-2,"color":"#000"},"encoding":{"x":{"field":"mid","type":"quantitative","title":"Depth (µm)"},"y":{"datum":70,"type":"quantitative","title":"Peak Power (dB)"},"text":{"field":"region"}}},
{"data":{"name":"A2"},"mark":{"type":"errorbar","color":"#595959","thickness":0.8,"ticks":{"size":5}},"encoding":{"x":{"field":"d","type":"quantitative","title":"Depth (µm)"},"y":{"field":"CTL","type":"quantitative","title":"Peak Power (dB)"},"yError":{"field":"eC"}}},
{"data":{"name":"A2"},"transform":[{"filter":"isValid(datum.RFS)"}],"mark":{"type":"errorbar","color":"#595959","thickness":0.8,"ticks":{"size":5}},"encoding":{"x":{"field":"d","type":"quantitative","title":"Depth (µm)"},"y":{"field":"RFS","type":"quantitative","title":"Peak Power (dB)"},"yError":{"field":"eR"}}},
{"data":{"name":"A2"},"mark":{"type":"point","shape":"circle","size":42,"filled":true,"stroke":"#000","strokeWidth":0.8,"opacity":1},"encoding":{"x":{"field":"d","type":"quantitative","title":"Depth (µm)"},"y":{"field":"CTL","type":"quantitative","title":"Peak Power (dB)","scale":{"domain":[70,90]},"axis":{"values":[70,80,90],"titlePadding":20}},"fill":{"datum":"CTL","type":"nominal"}}},
{"data":{"name":"A2"},"transform":[{"filter":"isValid(datum.RFS)"}],"mark":{"type":"point","shape":"circle","size":42,"filled":true,"stroke":"#222","strokeWidth":0.8,"opacity":1},"encoding":{"x":{"field":"d","type":"quantitative","title":"Depth (µm)"},"y":{"field":"RFS","type":"quantitative","title":"Peak Power (dB)"},"fill":{"datum":"RFS","type":"nominal"}}},
{"data":{"name":"sig"},"transform":[{"filter":"datum.panel==='A2'"}],"mark":{"type":"rule","color":"#404040","strokeWidth":1},"encoding":{"x":{"field":"from","type":"quantitative","title":"Depth (µm)"},"x2":{"field":"to"},"y":{"field":"y","type":"quantitative","title":"Peak Power (dB)","scale":{"domain":[70,90]}}}},
{"data":{"name":"sig"},"transform":[{"filter":"datum.panel==='A2'"}],"mark":{"type":"text","text":"*","fontSize":22,"baseline":"middle","dy":5,"color":"#000"},"encoding":{"x":{"field":"star","type":"quantitative","title":"Depth (µm)"},"y":{"field":"ystar","type":"quantitative","title":"Peak Power (dB)","scale":{"domain":[70,90]}}}}
]},
{"width":270,"height":88,"title":"Medium γ (70-90 Hz)","layer":[
{"data":{"name":"regions"},"mark":"rect","encoding":{"x":{"field":"start","type":"quantitative","title":"Depth (µm)","scale":{"domain":[0,1290],"nice":false},"axis":{"values":[0,400,800,1200],"format":"d"}},"x2":{"field":"end"},"color":{"field":"region","type":"nominal","scale":{"domain":["SO","SP","SR","SLM","MOL","DEN","HIL"],"range":["#b4c7e7","#ffd966","#e6b9b8","#a9b47c","#ffffff","#ffffff","#ffffff"]},"legend":null},"stroke":{"field":"region","type":"nominal","scale":{"domain":["SO","SP","SR","SLM","MOL","DEN","HIL"],"range":["transparent","transparent","transparent","transparent","#7f7f7f","#7f7f7f","#7f7f7f"]},"legend":null}}},
{"data":{"name":"regions"},"transform":[{"calculate":"(datum.start+datum.end)/2","as":"mid"}],"mark":{"type":"text","fontSize":17,"baseline":"alphabetic","dy":-2,"color":"#000"},"encoding":{"x":{"field":"mid","type":"quantitative","title":"Depth (µm)"},"y":{"datum":50,"type":"quantitative","title":"Peak Power (dB)"},"text":{"field":"region"}}},
{"data":{"name":"A3"},"mark":{"type":"errorbar","color":"#595959","thickness":0.8,"ticks":{"size":5}},"encoding":{"x":{"field":"d","type":"quantitative","title":"Depth (µm)"},"y":{"field":"CTL","type":"quantitative","title":"Peak Power (dB)"},"yError":{"field":"eC"}}},
{"data":{"name":"A3"},"transform":[{"filter":"isValid(datum.RFS)"}],"mark":{"type":"errorbar","color":"#595959","thickness":0.8,"ticks":{"size":5}},"encoding":{"x":{"field":"d","type":"quantitative","title":"Depth (µm)"},"y":{"field":"RFS","type":"quantitative","title":"Peak Power (dB)"},"yError":{"field":"eR"}}},
{"data":{"name":"A3"},"mark":{"type":"point","shape":"circle","size":42,"filled":true,"stroke":"#000","strokeWidth":0.8,"opacity":1},"encoding":{"x":{"field":"d","type":"quantitative","title":"Depth (µm)"},"y":{"field":"CTL","type":"quantitative","title":"Peak Power (dB)","scale":{"domain":[50,70]},"axis":{"values":[50,60,70],"titlePadding":3}},"fill":{"datum":"CTL","type":"nominal"}}},
{"data":{"name":"A3"},"transform":[{"filter":"isValid(datum.RFS)"}],"mark":{"type":"point","shape":"circle","size":42,"filled":true,"stroke":"#222","strokeWidth":0.8,"opacity":1},"encoding":{"x":{"field":"d","type":"quantitative","title":"Depth (µm)"},"y":{"field":"RFS","type":"quantitative","title":"Peak Power (dB)"},"fill":{"datum":"RFS","type":"nominal"}}}
]}
]},
{"title":{"text":"(B)","anchor":"start","fontWeight":"bold","fontSize":16,"offset":9},"spacing":15,
"hconcat":[
{"width":271,"height":178,"layer":[
{"data":{"name":"regions"},"mark":"rect","encoding":{"x":{"field":"start","type":"quantitative","title":"Depth (µm)","scale":{"domain":[0,1290],"nice":false},"axis":{"values":[0,400,800,1200],"format":"d"}},"x2":{"field":"end"},"color":{"field":"region","type":"nominal","scale":{"domain":["SO","SP","SR","SLM","MOL","DEN","HIL"],"range":["#b4c7e7","#ffd966","#e6b9b8","#a9b47c","#ffffff","#ffffff","#ffffff"]},"legend":null},"stroke":{"field":"region","type":"nominal","scale":{"domain":["SO","SP","SR","SLM","MOL","DEN","HIL"],"range":["transparent","transparent","transparent","transparent","#7f7f7f","#7f7f7f","#7f7f7f"]},"legend":null}}},
{"data":{"name":"B1"},"mark":{"type":"errorbar","color":"#595959","thickness":0.8,"ticks":{"size":5}},"encoding":{"x":{"field":"d","type":"quantitative","title":"Depth (µm)"},"y":{"field":"CTL","type":"quantitative","title":"Normalized Power (A.U.)"},"yError":{"field":"eC"}}},
{"data":{"name":"B1"},"transform":[{"filter":"isValid(datum.RFS)"}],"mark":{"type":"errorbar","color":"#595959","thickness":0.8,"ticks":{"size":5}},"encoding":{"x":{"field":"d","type":"quantitative","title":"Depth (µm)"},"y":{"field":"RFS","type":"quantitative","title":"Normalized Power (A.U.)"},"yError":{"field":"eR"}}},
{"data":{"name":"B1"},"mark":{"type":"point","shape":"circle","size":42,"filled":true,"stroke":"#000","strokeWidth":0.8,"opacity":1},"encoding":{"x":{"field":"d","type":"quantitative","title":"Depth (µm)"},"y":{"field":"CTL","type":"quantitative","title":"Normalized Power (A.U.)","scale":{"domain":[0.6,0.8]},"axis":{"values":[0.6,0.7,0.8],"format":".1f"}},"fill":{"datum":"CTL","type":"nominal"}}},
{"data":{"name":"B1"},"transform":[{"filter":"isValid(datum.RFS)"}],"mark":{"type":"point","shape":"circle","size":42,"filled":true,"stroke":"#222","strokeWidth":0.8,"opacity":1},"encoding":{"x":{"field":"d","type":"quantitative","title":"Depth (µm)"},"y":{"field":"RFS","type":"quantitative","title":"Normalized Power (A.U.)"},"fill":{"datum":"RFS","type":"nominal"}}},
{"data":{"name":"sig"},"transform":[{"filter":"datum.panel==='B1'"}],"mark":{"type":"rule","color":"#404040","strokeWidth":1},"encoding":{"x":{"field":"from","type":"quantitative","title":"Depth (µm)"},"x2":{"field":"to"},"y":{"field":"y","type":"quantitative","title":"Normalized Power (A.U.)","scale":{"domain":[0.6,0.8]}}}},
{"data":{"name":"sig"},"transform":[{"filter":"datum.panel==='B1'"}],"mark":{"type":"text","text":"*","fontSize":22,"baseline":"middle","dy":5,"color":"#000"},"encoding":{"x":{"field":"star","type":"quantitative","title":"Depth (µm)"},"y":{"field":"ystar","type":"quantitative","title":"Normalized Power (A.U.)","scale":{"domain":[0.6,0.8]}}}}
]},
{"width":271,"height":176,"layer":[
{"data":{"name":"regions"},"mark":"rect","encoding":{"x":{"field":"start","type":"quantitative","title":"Depth (µm)","scale":{"domain":[0,1290],"nice":false},"axis":{"values":[0,400,800,1200],"format":"d"}},"x2":{"field":"end"},"color":{"field":"region","type":"nominal","scale":{"domain":["SO","SP","SR","SLM","MOL","DEN","HIL"],"range":["#b4c7e7","#ffd966","#e6b9b8","#a9b47c","#ffffff","#ffffff","#ffffff"]},"legend":null},"stroke":{"field":"region","type":"nominal","scale":{"domain":["SO","SP","SR","SLM","MOL","DEN","HIL"],"range":["transparent","transparent","transparent","transparent","#7f7f7f","#7f7f7f","#7f7f7f"]},"legend":null}}},
{"data":{"name":"B2"},"mark":{"type":"errorbar","color":"#595959","thickness":0.8,"ticks":{"size":5}},"encoding":{"x":{"field":"d","type":"quantitative","title":"Depth (µm)"},"y":{"field":"CTL","type":"quantitative","title":"Normalized Power (A.U.)"},"yError":{"field":"eC"}}},
{"data":{"name":"B2"},"transform":[{"filter":"isValid(datum.RFS)"}],"mark":{"type":"errorbar","color":"#595959","thickness":0.8,"ticks":{"size":5}},"encoding":{"x":{"field":"d","type":"quantitative","title":"Depth (µm)"},"y":{"field":"RFS","type":"quantitative","title":"Normalized Power (A.U.)"},"yError":{"field":"eR"}}},
{"data":{"name":"B2"},"mark":{"type":"point","shape":"circle","size":42,"filled":true,"stroke":"#000","strokeWidth":0.8,"opacity":1},"encoding":{"x":{"field":"d","type":"quantitative","title":"Depth (µm)"},"y":{"field":"CTL","type":"quantitative","title":"Normalized Power (A.U.)","scale":{"domain":[0.21,0.26]},"axis":{"values":[0.21,0.22,0.23,0.24,0.25,0.26],"tickCount":10,"format":".2f","titlePadding":14,"labelOverlap":false}},"fill":{"datum":"CTL","type":"nominal"}}},
{"data":{"name":"B2"},"transform":[{"filter":"isValid(datum.RFS)"}],"mark":{"type":"point","shape":"circle","size":42,"filled":true,"stroke":"#222","strokeWidth":0.8,"opacity":1},"encoding":{"x":{"field":"d","type":"quantitative","title":"Depth (µm)"},"y":{"field":"RFS","type":"quantitative","title":"Normalized Power (A.U.)"},"fill":{"datum":"RFS","type":"nominal"}}}
]},
{"width":271,"height":177,"layer":[
{"data":{"name":"regions"},"mark":"rect","encoding":{"x":{"field":"start","type":"quantitative","title":"Depth (µm)","scale":{"domain":[0,1290],"nice":false},"axis":{"values":[0,400,800,1200],"format":"d"}},"x2":{"field":"end"},"color":{"field":"region","type":"nominal","scale":{"domain":["SO","SP","SR","SLM","MOL","DEN","HIL"],"range":["#b4c7e7","#ffd966","#e6b9b8","#a9b47c","#ffffff","#ffffff","#ffffff"]},"legend":null},"stroke":{"field":"region","type":"nominal","scale":{"domain":["SO","SP","SR","SLM","MOL","DEN","HIL"],"range":["transparent","transparent","transparent","transparent","#7f7f7f","#7f7f7f","#7f7f7f"]},"legend":null}}},
{"data":{"name":"B3"},"mark":{"type":"errorbar","color":"#595959","thickness":0.8,"ticks":{"size":5}},"encoding":{"x":{"field":"d","type":"quantitative","title":"Depth (µm)"},"y":{"field":"CTL","type":"quantitative","title":"Normalized Power (A.U.)"},"yError":{"field":"eC"}}},
{"data":{"name":"B3"},"transform":[{"filter":"isValid(datum.RFS)"}],"mark":{"type":"errorbar","color":"#595959","thickness":0.8,"ticks":{"size":5}},"encoding":{"x":{"field":"d","type":"quantitative","title":"Depth (µm)"},"y":{"field":"RFS","type":"quantitative","title":"Normalized Power (A.U.)"},"yError":{"field":"eR"}}},
{"data":{"name":"B3"},"mark":{"type":"point","shape":"circle","size":42,"filled":true,"stroke":"#000","strokeWidth":0.8,"opacity":1},"encoding":{"x":{"field":"d","type":"quantitative","title":"Depth (µm)"},"y":{"field":"CTL","type":"quantitative","title":"Normalized Power (A.U.)","scale":{"domain":[0.13,0.14]},"axis":{"values":[0.13,0.135,0.14],"format":".3f","titlePadding":1}},"fill":{"datum":"CTL","type":"nominal"}}},
{"data":{"name":"B3"},"transform":[{"filter":"isValid(datum.RFS)"}],"mark":{"type":"point","shape":"circle","size":42,"filled":true,"stroke":"#222","strokeWidth":0.8,"opacity":1},"encoding":{"x":{"field":"d","type":"quantitative","title":"Depth (µm)"},"y":{"field":"RFS","type":"quantitative","title":"Normalized Power (A.U.)"},"fill":{"datum":"RFS","type":"nominal"}}},
{"data":{"name":"sig"},"transform":[{"filter":"datum.panel==='B3'"}],"mark":{"type":"rule","color":"#404040","strokeWidth":1},"encoding":{"x":{"field":"from","type":"quantitative","title":"Depth (µm)"},"x2":{"field":"to"},"y":{"field":"y","type":"quantitative","title":"Normalized Power (A.U.)","scale":{"domain":[0.13,0.14]}}}},
{"data":{"name":"sig"},"transform":[{"filter":"datum.panel==='B3'"}],"mark":{"type":"text","text":"*","fontSize":22,"baseline":"middle","dy":5,"color":"#000"},"encoding":{"x":{"field":"star","type":"quantitative","title":"Depth (µm)"},"y":{"field":"ystar","type":"quantitative","title":"Normalized Power (A.U.)","scale":{"domain":[0.13,0.14]}}}}
]}
]},
{"title":{"text":"(C)","anchor":"start","fontWeight":"bold","fontSize":16,"offset":13},"spacing":21,
"hconcat":[
{"width":272,"height":130,"layer":[
{"data":{"name":"regions"},"mark":"rect","encoding":{"x":{"field":"start","type":"quantitative","title":"Depth (µm)","scale":{"domain":[0,1290],"nice":false},"axis":{"values":[0,400,800,1200],"format":"d"}},"x2":{"field":"end"},"color":{"field":"region","type":"nominal","scale":{"domain":["SO","SP","SR","SLM","MOL","DEN","HIL"],"range":["#b4c7e7","#ffd966","#e6b9b8","#a9b47c","#ffffff","#ffffff","#ffffff"]},"legend":null},"stroke":{"field":"region","type":"nominal","scale":{"domain":["SO","SP","SR","SLM","MOL","DEN","HIL"],"range":["transparent","transparent","transparent","transparent","#7f7f7f","#7f7f7f","#7f7f7f"]},"legend":null}}},
{"data":{"name":"C1"},"mark":{"type":"errorbar","color":"#595959","thickness":0.8,"ticks":{"size":5}},"encoding":{"x":{"field":"d","type":"quantitative","title":"Depth (µm)"},"y":{"field":"CTL","type":"quantitative","title":"Frequency (Hz)"},"yError":{"field":"eC"}}},
{"data":{"name":"C1"},"transform":[{"filter":"isValid(datum.RFS)"}],"mark":{"type":"errorbar","color":"#595959","thickness":0.8,"ticks":{"size":5}},"encoding":{"x":{"field":"d","type":"quantitative","title":"Depth (µm)"},"y":{"field":"RFS","type":"quantitative","title":"Frequency (Hz)"},"yError":{"field":"eR"}}},
{"data":{"name":"C1"},"mark":{"type":"point","shape":"circle","size":42,"filled":true,"stroke":"#000","strokeWidth":0.8,"opacity":1},"encoding":{"x":{"field":"d","type":"quantitative","title":"Depth (µm)"},"y":{"field":"CTL","type":"quantitative","title":"Frequency (Hz)","scale":{"domain":[4,8]},"axis":{"values":[4,6,8]}},"fill":{"datum":"CTL","type":"nominal"}}},
{"data":{"name":"C1"},"transform":[{"filter":"isValid(datum.RFS)"}],"mark":{"type":"point","shape":"circle","size":42,"filled":true,"stroke":"#222","strokeWidth":0.8,"opacity":1},"encoding":{"x":{"field":"d","type":"quantitative","title":"Depth (µm)"},"y":{"field":"RFS","type":"quantitative","title":"Frequency (Hz)"},"fill":{"datum":"RFS","type":"nominal"}}},
{"data":{"name":"sig"},"transform":[{"filter":"datum.panel==='C1'"}],"mark":{"type":"rule","color":"#404040","strokeWidth":1},"encoding":{"x":{"field":"from","type":"quantitative","title":"Depth (µm)"},"x2":{"field":"to"},"y":{"field":"y","type":"quantitative","title":"Frequency (Hz)","scale":{"domain":[4,8]}}}},
{"data":{"name":"sig"},"transform":[{"filter":"datum.panel==='C1'"}],"mark":{"type":"text","text":"*","fontSize":22,"baseline":"middle","dy":5,"color":"#000"},"encoding":{"x":{"field":"star","type":"quantitative","title":"Depth (µm)"},"y":{"field":"ystar","type":"quantitative","title":"Frequency (Hz)","scale":{"domain":[4,8]}}}}
]},
{"width":275,"height":130,"layer":[
{"data":{"name":"regions"},"mark":"rect","encoding":{"x":{"field":"start","type":"quantitative","title":"Depth (µm)","scale":{"domain":[0,1290],"nice":false},"axis":{"values":[0,400,800,1200],"format":"d"}},"x2":{"field":"end"},"color":{"field":"region","type":"nominal","scale":{"domain":["SO","SP","SR","SLM","MOL","DEN","HIL"],"range":["#b4c7e7","#ffd966","#e6b9b8","#a9b47c","#ffffff","#ffffff","#ffffff"]},"legend":null},"stroke":{"field":"region","type":"nominal","scale":{"domain":["SO","SP","SR","SLM","MOL","DEN","HIL"],"range":["transparent","transparent","transparent","transparent","#7f7f7f","#7f7f7f","#7f7f7f"]},"legend":null}}},
{"data":{"name":"C2"},"mark":{"type":"errorbar","color":"#595959","thickness":0.8,"ticks":{"size":5}},"encoding":{"x":{"field":"d","type":"quantitative","title":"Depth (µm)"},"y":{"field":"CTL","type":"quantitative","title":"Frequency (Hz)"},"yError":{"field":"eC"}}},
{"data":{"name":"C2"},"transform":[{"filter":"isValid(datum.RFS)"}],"mark":{"type":"errorbar","color":"#595959","thickness":0.8,"ticks":{"size":5}},"encoding":{"x":{"field":"d","type":"quantitative","title":"Depth (µm)"},"y":{"field":"RFS","type":"quantitative","title":"Frequency (Hz)"},"yError":{"field":"eR"}}},
{"data":{"name":"C2"},"mark":{"type":"point","shape":"circle","size":42,"filled":true,"stroke":"#000","strokeWidth":0.8,"opacity":1},"encoding":{"x":{"field":"d","type":"quantitative","title":"Depth (µm)"},"y":{"field":"CTL","type":"quantitative","title":"Frequency (Hz)","scale":{"domain":[30,36]},"axis":{"values":[30,33,36],"titlePadding":19}},"fill":{"datum":"CTL","type":"nominal"}}},
{"data":{"name":"C2"},"transform":[{"filter":"isValid(datum.RFS)"}],"mark":{"type":"point","shape":"circle","size":42,"filled":true,"stroke":"#222","strokeWidth":0.8,"opacity":1},"encoding":{"x":{"field":"d","type":"quantitative","title":"Depth (µm)"},"y":{"field":"RFS","type":"quantitative","title":"Frequency (Hz)"},"fill":{"datum":"RFS","type":"nominal"}}},
{"data":{"name":"sig"},"transform":[{"filter":"datum.panel==='C2'"}],"mark":{"type":"rule","color":"#404040","strokeWidth":1},"encoding":{"x":{"field":"from","type":"quantitative","title":"Depth (µm)"},"x2":{"field":"to"},"y":{"field":"y","type":"quantitative","title":"Frequency (Hz)","scale":{"domain":[30,36]}}}},
{"data":{"name":"sig"},"transform":[{"filter":"datum.panel==='C2'"}],"mark":{"type":"text","text":"*","fontSize":22,"baseline":"middle","dy":5,"color":"#000"},"encoding":{"x":{"field":"star","type":"quantitative","title":"Depth (µm)"},"y":{"field":"ystar","type":"quantitative","title":"Frequency (Hz)","scale":{"domain":[30,36]}}}}
]},
{"width":280,"height":130,"layer":[
{"data":{"name":"regions"},"mark":"rect","encoding":{"x":{"field":"start","type":"quantitative","title":"Depth (µm)","scale":{"domain":[0,1290],"nice":false},"axis":{"values":[0,400,800,1200],"format":"d"}},"x2":{"field":"end"},"color":{"field":"region","type":"nominal","scale":{"domain":["SO","SP","SR","SLM","MOL","DEN","HIL"],"range":["#b4c7e7","#ffd966","#e6b9b8","#a9b47c","#ffffff","#ffffff","#ffffff"]},"legend":null},"stroke":{"field":"region","type":"nominal","scale":{"domain":["SO","SP","SR","SLM","MOL","DEN","HIL"],"range":["transparent","transparent","transparent","transparent","#7f7f7f","#7f7f7f","#7f7f7f"]},"legend":null}}},
{"data":{"name":"C3"},"mark":{"type":"errorbar","color":"#595959","thickness":0.8,"ticks":{"size":5}},"encoding":{"x":{"field":"d","type":"quantitative","title":"Depth (µm)"},"y":{"field":"CTL","type":"quantitative","title":"Frequency (Hz)"},"yError":{"field":"eC"}}},
{"data":{"name":"C3"},"transform":[{"filter":"isValid(datum.RFS)"}],"mark":{"type":"errorbar","color":"#595959","thickness":0.8,"ticks":{"size":5}},"encoding":{"x":{"field":"d","type":"quantitative","title":"Depth (µm)"},"y":{"field":"RFS","type":"quantitative","title":"Frequency (Hz)"},"yError":{"field":"eR"}}},
{"data":{"name":"C3"},"mark":{"type":"point","shape":"circle","size":42,"filled":true,"stroke":"#000","strokeWidth":0.8,"opacity":1},"encoding":{"x":{"field":"d","type":"quantitative","title":"Depth (µm)"},"y":{"field":"CTL","type":"quantitative","title":"Frequency (Hz)","scale":{"domain":[72.5,77.5]},"axis":{"values":[72.5,75,77.5],"format":".3~g","titlePadding":7}},"fill":{"datum":"CTL","type":"nominal"}}},
{"data":{"name":"C3"},"transform":[{"filter":"isValid(datum.RFS)"}],"mark":{"type":"point","shape":"circle","size":42,"filled":true,"stroke":"#222","strokeWidth":0.8,"opacity":1},"encoding":{"x":{"field":"d","type":"quantitative","title":"Depth (µm)"},"y":{"field":"RFS","type":"quantitative","title":"Frequency (Hz)"},"fill":{"datum":"RFS","type":"nominal"}}}
]}
]}
]
}
